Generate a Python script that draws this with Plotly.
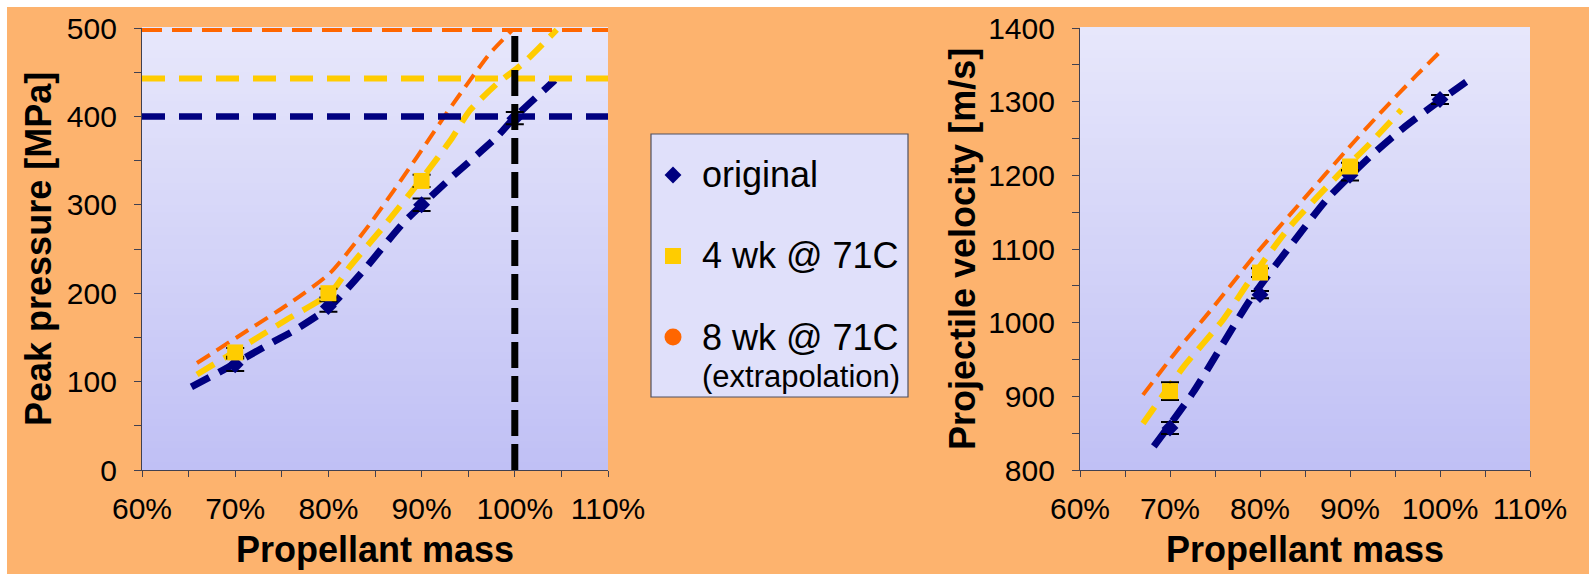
import plotly.graph_objects as go

# ---------------- data ----------------
mass = [0.70, 0.80, 0.90, 1.00]
mass_4wk = [0.70, 0.80, 0.90]

# Peak pressure [MPa]
p_orig = [119, 185, 300, 398]
p_orig_err = [7, 6, 7, 7]
p_4wk = [133, 200, 327]
p_4wk_err = [5, 5, 7]

# Projectile velocity [m/s]
v_orig = [857, 1038, 1200, 1303]
v_orig_err = [8, 5, 7, 6]
v_4wk = [907, 1068, 1212]
v_4wk_err = [12, 6, 5]

# Fitted trend curves, pressure
pc_orig_x = [0.653, 0.687, 0.741, 0.762, 0.802, 0.838, 0.880, 0.931, 0.981, 0.999, 1.043]
pc_orig_y = [94, 113, 145, 157, 185, 226, 279, 330, 377, 398, 441]
pc_4wk_x = [0.659, 0.709, 0.755, 0.802, 0.823, 0.859, 0.902, 0.931, 0.952, 0.981, 1.009, 1.045]
pc_4wk_y = [108, 140, 170, 200, 230, 275, 332, 373, 407, 437, 460, 498]
pc_8wk_x = [0.659, 0.709, 0.759, 0.802, 0.845, 0.895, 0.927, 0.952, 0.973, 1.006]
pc_8wk_y = [121, 155, 189, 223, 279, 354, 404, 441, 471, 507]

# Fitted trend curves, velocity
vc_orig_x = [0.682, 0.726, 0.789, 0.833, 0.874, 0.922, 0.959, 0.996, 1.035]
vc_orig_y = [832, 906, 1031, 1103, 1167, 1225, 1264, 1298, 1332]
vc_4wk_x = [0.670, 0.715, 0.759, 0.789, 0.833, 0.885, 0.922, 0.957]
vc_4wk_y = [863, 940, 1004, 1058, 1130, 1198, 1243, 1289]
vc_8wk_x = [0.670, 0.707, 0.744, 0.796, 0.848, 0.896, 0.937, 0.974, 1.002]
vc_8wk_y = [902, 961, 1015, 1094, 1167, 1234, 1289, 1336, 1370]

# Pressure levels reached at nominal (100 %) charge
levels = [400, 443, 500]
nominal_mass = 1.00

legend_labels = ["original", "4 wk @ 71C", "8 wk @ 71C"]
legend_note = "(extrapolation)"

# ---------------- styles ----------------
NAVY = "#000080"
YELLOW = "#FFCC00"
ORANGE = "#FF6600"
BG = "#FDB36E"
FONT = "Liberation Sans, Arial, sans-serif"
W, H = 1589, 574

series_colors = [NAVY, YELLOW, ORANGE]
series_symbols = ["diamond", "square", "circle"]
series_sizes = [13, 16, 17]

fig = go.Figure()


def px_x(p):
    return p / W


def px_y(p):
    return 1 - p / H


# subplot domains
left_dom = [px_x(142), px_x(608)]
right_dom = [px_x(1080), px_x(1530)]
plot_ydom = [px_y(470), px_y(28)]

# ---- trend curves ----
curve_styles = [
    dict(color=NAVY, width=7, dash="20px,11px"),
    dict(color=YELLOW, width=6, dash="20px,11px"),
    dict(color=ORANGE, width=4, dash="15px,8px"),
]
for (cx, cy), st in zip([(pc_orig_x, pc_orig_y), (pc_4wk_x, pc_4wk_y), (pc_8wk_x, pc_8wk_y)],
                        curve_styles):
    fig.add_trace(go.Scatter(x=cx, y=cy, mode="lines", line=dict(shape="spline", smoothing=0.6, **st),
                             xaxis="x", yaxis="y", showlegend=False, hoverinfo="skip"))
for (cx, cy), st in zip([(vc_orig_x, vc_orig_y), (vc_4wk_x, vc_4wk_y), (vc_8wk_x, vc_8wk_y)],
                        curve_styles):
    fig.add_trace(go.Scatter(x=cx, y=cy, mode="lines", line=dict(shape="spline", smoothing=0.6, **st),
                             xaxis="x2", yaxis="y2", showlegend=False, hoverinfo="skip"))

# ---- measured points with error bars ----
def points(x, y, err, idx, xa, ya):
    fig.add_trace(go.Scatter(
        x=x, y=y, mode="markers", xaxis=xa, yaxis=ya, showlegend=False,
        marker=dict(symbol=series_symbols[idx], size=series_sizes[idx], color=series_colors[idx],
                    line=dict(width=0)),
        error_y=dict(type="data", array=err, visible=True, color="black", thickness=2, width=9),
    ))


points(mass, p_orig, p_orig_err, 0, "x", "y")
points(mass_4wk, p_4wk, p_4wk_err, 1, "x", "y")
points(mass, v_orig, v_orig_err, 0, "x2", "y2")
points(mass_4wk, v_4wk, v_4wk_err, 1, "x2", "y2")

# ---- horizontal pressure levels and nominal-charge marker ----
level_styles = [
    dict(color=NAVY, width=6.5, dash="23px,14px"),
    dict(color=YELLOW, width=6, dash="23px,14px"),
    dict(color=ORANGE, width=8, dash="20px,10px"),
]
for lv, st in zip(levels, level_styles):
    fig.add_trace(go.Scatter(x=[0.60, 1.10], y=[lv, lv], mode="lines", line=st,
                             xaxis="x", yaxis="y", showlegend=False, hoverinfo="skip"))
fig.add_trace(go.Scatter(x=[nominal_mass, nominal_mass], y=[0, 500], mode="lines",
                         line=dict(color="black", width=7, dash="26px,8px"),
                         xaxis="x", yaxis="y", showlegend=False, hoverinfo="skip"))

# ---- legend box (own small axis, pixel units from its top-left corner) ----
leg_x0, leg_x1, leg_y0, leg_y1 = 651, 908, 134, 397
row_top, row_gap = 41, 81
for i, lab in enumerate(legend_labels):
    fig.add_trace(go.Scatter(
        x=[22], y=[row_top + i * row_gap], mode="markers", xaxis="x3", yaxis="y3", showlegend=False,
        marker=dict(symbol=series_symbols[i], size=series_sizes[i], color=series_colors[i]),
        hoverinfo="skip"))

# ---- plot background gradients ----
shapes = []
top_rgb = (231, 231, 251)
bot_rgb = (192, 192, 245)
n = 60
for ax in ["", "2"]:
    for i in range(n):
        t = i / (n - 1)
        c = tuple(round(b + (tp - b) * t) for b, tp in zip(bot_rgb, top_rgb))
        shapes.append(dict(type="rect", xref=f"x{ax} domain", yref=f"y{ax} domain",
                           x0=0, x1=1, y0=i / n, y1=(i + 1) / n + 0.002,
                           fillcolor=f"rgb{c}", line=dict(width=0), layer="below"))
# white strips along the top and left edge
shapes.append(dict(type="rect", xref="paper", yref="paper", x0=0, x1=1, y0=px_y(7), y1=1,
                   fillcolor="white", line=dict(width=0), layer="below"))
shapes.append(dict(type="rect", xref="paper", yref="paper", x0=0, x1=px_x(7), y0=0, y1=1,
                   fillcolor="white", line=dict(width=0), layer="below"))
# legend frame
shapes.append(dict(type="rect", xref="paper", yref="paper",
                   x0=px_x(leg_x0), x1=px_x(leg_x1), y0=px_y(leg_y1), y1=px_y(leg_y0),
                   fillcolor="#E0E0FA", line=dict(color="#505060", width=1.2), layer="below"))

annotations = []
for i, lab in enumerate(legend_labels):
    annotations.append(dict(x=49, y=row_top + i * row_gap, xref="x3", yref="y3", text=lab,
                            showarrow=False, xanchor="left", yanchor="middle",
                            font=dict(family=FONT, size=36, color="black")))
annotations.append(dict(x=49, y=row_top + 2 * row_gap + 39, xref="x3", yref="y3", text=legend_note,
                        showarrow=False, xanchor="left", yanchor="middle",
                        font=dict(family=FONT, size=31, color="black")))

# axis titles
title_font = dict(family=FONT, size=36, color="black")
annotations += [
    dict(text="<b>Propellant mass</b>", x=0.5, y=px_y(549), xref="x domain", yref="paper",
         showarrow=False, xanchor="center", yanchor="middle", font=title_font),
    dict(text="<b>Propellant mass</b>", x=0.5, y=px_y(549), xref="x2 domain", yref="paper",
         showarrow=False, xanchor="center", yanchor="middle", font=title_font),
    dict(text="<b>Peak pressure [MPa]</b>", x=px_x(38), y=0.5, xref="paper", yref="y domain",
         showarrow=False, textangle=-90, xanchor="center", yanchor="middle", font=title_font),
    dict(text="<b>Projectile velocity [m/s]</b>", x=px_x(962), y=0.5, xref="paper", yref="y2 domain",
         showarrow=False, textangle=-90, xanchor="center", yanchor="middle", font=title_font),
]

tick_font = dict(family=FONT, size=30, color="black")
xcommon = dict(range=[0.60, 1.10], dtick=0.10, tick0=0.60, tickformat=".0%", showgrid=False,
               zeroline=False, showline=True, linecolor="#404050", linewidth=1.2,
               ticks="outside", ticklen=6, tickcolor="#404050", tickfont=tick_font,
               ticklabelstandoff=6, automargin=False,
               minor=dict(dtick=0.05, ticks="outside", ticklen=6, tickcolor="#404050"),
               fixedrange=True)
ycommon = dict(showgrid=False, zeroline=False, showline=True, linecolor="#404050", linewidth=1.2,
               ticks="outside", ticklen=7, tickcolor="#404050", tickfont=tick_font,
               ticklabelstandoff=11, automargin=False, fixedrange=True)

fig.update_layout(
    width=W, height=H,
    margin=dict(l=0, r=0, t=0, b=0, pad=0, autoexpand=False),
    paper_bgcolor=BG,
    plot_bgcolor="rgba(0,0,0,0)",
    showlegend=False,
    xaxis=dict(domain=left_dom, anchor="y", **xcommon),
    yaxis=dict(domain=plot_ydom, anchor="x", range=[0, 500], dtick=100,
               minor=dict(dtick=50, ticks="outside", ticklen=7, tickcolor="#404050"), **ycommon),
    xaxis2=dict(domain=right_dom, anchor="y2", **xcommon),
    yaxis2=dict(domain=plot_ydom, anchor="x2", range=[800, 1400], dtick=100,
                minor=dict(dtick=50, ticks="outside", ticklen=7, tickcolor="#404050"), **ycommon),
    xaxis3=dict(domain=[px_x(leg_x0), px_x(leg_x1)], range=[0, leg_x1 - leg_x0], visible=False,
                anchor="y3", fixedrange=True, automargin=False),
    yaxis3=dict(domain=[px_y(leg_y1), px_y(leg_y0)], range=[leg_y1 - leg_y0, 0], visible=False,
                anchor="x3", fixedrange=True, automargin=False),
    shapes=shapes,
    annotations=annotations,
    font=dict(family=FONT),
)

fig.write_html("out.html")
